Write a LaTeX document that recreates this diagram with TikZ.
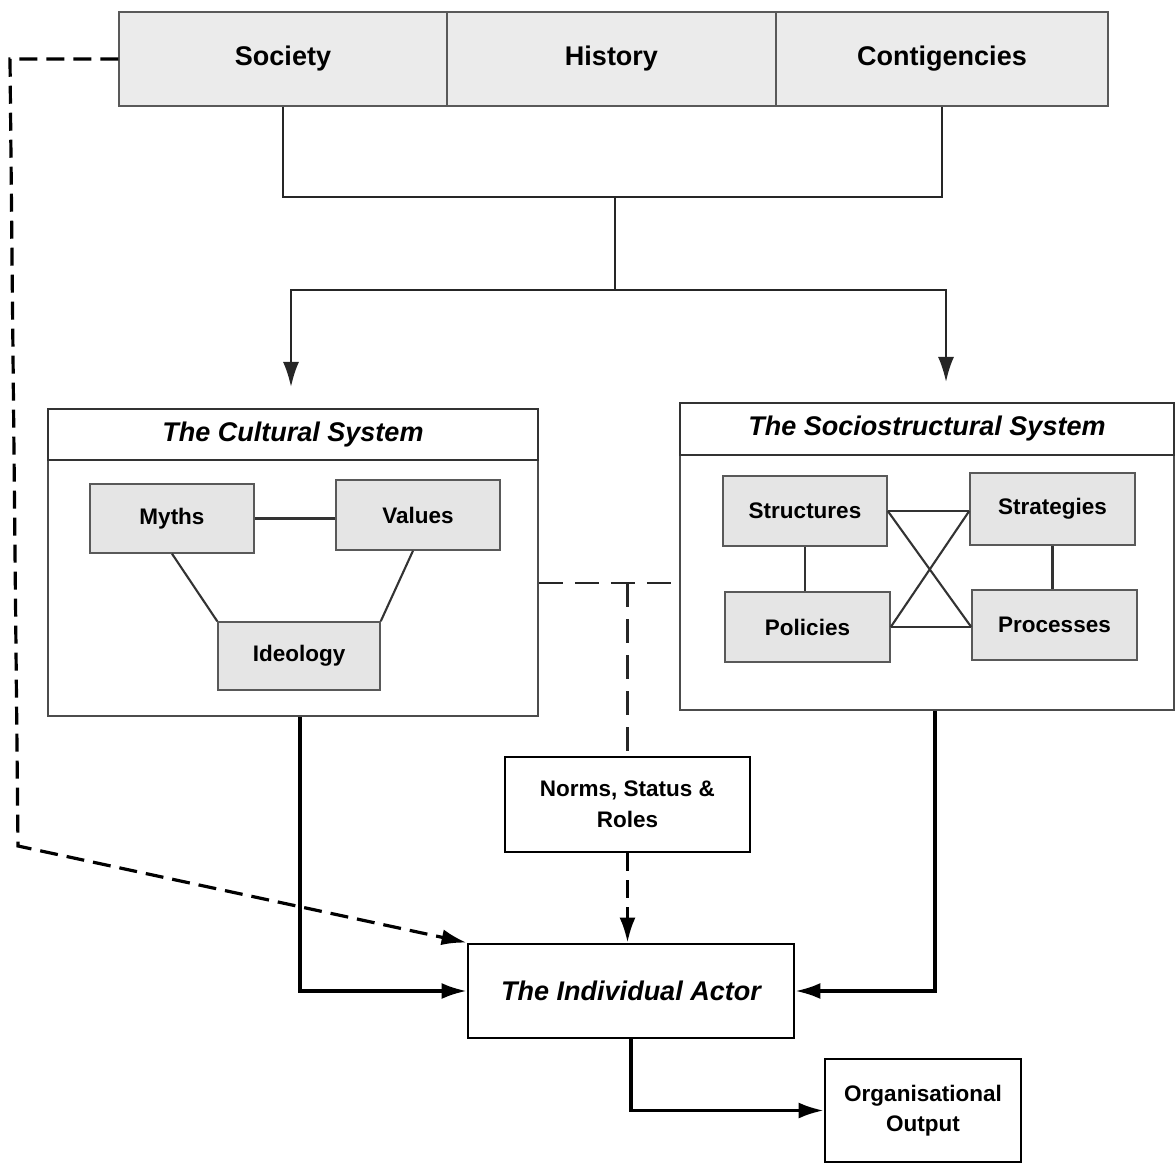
\documentclass[tikz,border=0pt]{standalone}
\usepackage{fontspec}
\setmainfont{Liberation Sans}
\usetikzlibrary{arrows.meta,calc}
\tikzset{
  big/.style={font=\bfseries\fontsize{27}{30}\selectfont},
  bigit/.style={font=\bfseries\itshape\fontsize{27}{30}\selectfont},
  small/.style={font=\bfseries\fontsize{22.5}{31}\selectfont},
  topbox/.style={draw=black!65, fill=black!8, line width=1.5pt, inner sep=0pt, big},
  graybox/.style={draw=black!65, fill=black!10, line width=1.5pt, inner sep=0pt, small},
  sysbox/.style={draw=black!70, line width=1.6pt, inner sep=0pt},
  headbox/.style={draw=black!80, line width=1.8pt, inner sep=0pt, bigit},
  blkbox/.style={draw=black, line width=2.8pt, fill=white, inner sep=0pt, align=center},
  conn/.style={draw=black!85, line width=2.2pt},
  thin/.style={draw=black!80, line width=2.1pt},
  heavy/.style={draw=black, line width=3.2pt},
  arr/.style={-{Latex[length=25pt,width=16pt]}},
  dsh/.style={dash pattern=on 24pt off 12pt},
  ldsh/.style={dash pattern=on 18pt off 9pt},
}
\begin{document}
\begin{tikzpicture}[x=1pt,y=-1pt]
\useasboundingbox (0,0) rectangle (1176,1166);
% top bar
\node[topbox, minimum width=328, minimum height=94] (society) at (283,59) {Society};
\node[topbox, minimum width=329, minimum height=94] (history) at (611.5,59) {History};
\node[topbox, minimum width=332, minimum height=94] (contig) at (942,59) {Contigencies};
% cultural system
\node[sysbox, minimum width=490, minimum height=307] (cult) at (293,562.5) {};
\node[headbox, minimum width=490, minimum height=51] (culthead) at (293,434.5) {The Cultural System};
\node[graybox, minimum width=164, minimum height=69] (myths) at (172,518.5) {Myths};
\node[graybox, minimum width=164, minimum height=70] (values) at (418,515) {Values};
\node[graybox, minimum width=162, minimum height=68] (ideology) at (299,656) {Ideology};
% sociostructural system
\node[sysbox, minimum width=494, minimum height=307] (socio) at (927,556.5) {};
\node[headbox, minimum width=494, minimum height=52] (sociohead) at (927,429) {The Sociostructural System};
\node[graybox, minimum width=164, minimum height=70] (structures) at (805,511) {Structures};
\node[graybox, minimum width=165, minimum height=72] (strategies) at (1052.5,509) {Strategies};
\node[graybox, minimum width=165, minimum height=70] (policies) at (807.5,627) {Policies};
\node[graybox, minimum width=165, minimum height=70] (processes) at (1054.5,625) {Processes};
% lower boxes
\node[blkbox, small, minimum width=245, minimum height=95] (norms) at (627.5,804.5) {Norms, Status \&\\Roles};
\node[blkbox, bigit, minimum width=326, minimum height=94] (actor) at (631,991) {The Individual Actor};
\node[blkbox, small, font=\bfseries\fontsize{22.5}{30}\selectfont, minimum width=196, minimum height=103] (org) at (923,1110.5) {Organisational\\Output};
% coordinates
\coordinate (j1) at (615,197);
\coordinate (j2) at (615,290);
\coordinate (a1) at (291,387);
\coordinate (a2) at (946,382);
\coordinate (j3) at (627.5,583);
\coordinate (l1) at (10,59);
\coordinate (l2) at (18,846);
% top connectors
\draw[conn] (society.south) |- (j1) -| (contig.south);
\draw[conn] (j1) -- (j2);
\draw[conn, arr] (j2) -| (a1);
\draw[conn, arr] (j2) -| (a2);
% cultural internals
\draw[thin] (myths.east) -- (myths.east -| values.west);
\draw[thin] (myths.south) -- (ideology.north west);
\draw[thin] ([xshift=-5pt]values.south) -- (ideology.north east);
% socio internals
\draw[thin] (structures.east) -- (strategies.west |- structures.east);
\draw[thin] (policies.east) -- (processes.west |- policies.east);
\draw[thin] (structures.east) -- (processes.west |- policies.east);
\draw[thin] (policies.east) -- (strategies.west |- structures.east);
\draw[thin] (structures.south) -- (structures.south |- policies.north);
\draw[thin] (strategies.south) -- (strategies.south |- processes.north);
% dashed links
\draw[draw=black!85, line width=2.2pt, dsh] (cult.east |- j3) -- (socio.west |- j3);
\draw[draw=black!85, line width=2.2pt, dsh] (j3) -- (norms.north);
\draw[heavy, ldsh, arr] (norms.south) -- (norms.south |- actor.north);
\draw[heavy, ldsh, arr] (society.west) -- (l1) -- (l2) -- (actor.north west);
% solid arrows into actor
\draw[heavy, arr] ([xshift=7pt]cult.south) |- (actor.west);
\draw[heavy, arr] ([xshift=8pt]socio.south) |- (actor.east);
\draw[heavy, arr] (actor.south) |- (org.west);
\end{tikzpicture}
\end{document}
